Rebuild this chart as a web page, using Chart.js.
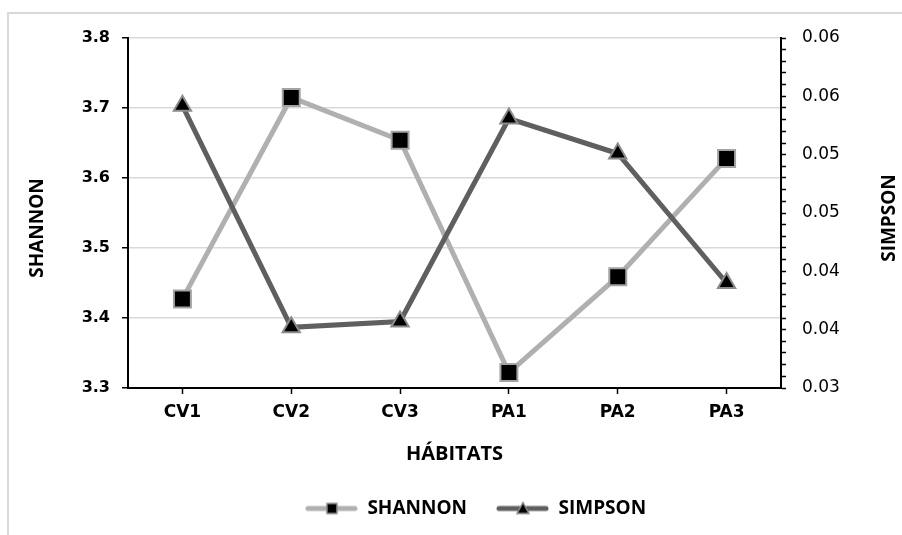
<!DOCTYPE html>
<html>
<head>
<meta charset="utf-8">
<script src="https://cdn.jsdelivr.net/npm/chart.js@4.4.0/dist/chart.umd.min.js"></script>
<style>
  html, body { margin: 0; padding: 0; background: #fff; overflow: hidden; }
  #frame { position: absolute; left: 7px; top: 12px; width: 950px; height: 600px; border: 2px solid #d9d9d9; box-sizing: border-box; }
  #wrap { position: absolute; left: 0; top: 0; width: 902px; height: 535px; }
</style>
</head>
<body>
<div id="frame"></div>
<div id="wrap"><canvas id="chart"></canvas></div>
<script>
// Data
const habitats = ['CV1', 'CV2', 'CV3', 'PA1', 'PA2', 'PA3'];
const shannon = [3.427, 3.715, 3.654, 3.322, 3.459, 3.628];
const simpson = [0.0542, 0.0352, 0.0357, 0.0531, 0.0501, 0.0390];
const simpsonTickLabels = ['0.03', '0.04', '0.04', '0.05', '0.05', '0.06', '0.06'];

// Colours
const shannonColor = '#b0b0b0';
const simpsonColor = '#5f5f5f';

// Legend icons: line with a small marker in the middle (transparent gap on the left)
function makeIcon(color, marker) {
    const c = document.createElement('canvas');
    c.width = 72;
    c.height = 16;
    const g = c.getContext('2d');
    g.strokeStyle = color;
    g.lineWidth = 5;
    g.lineCap = 'round';
    g.beginPath();
    g.moveTo(22, 8);
    g.lineTo(69, 8);
    g.stroke();
    g.fillStyle = '#000';
    g.strokeStyle = '#8c8c8c';
    g.lineWidth = 1.5;
    g.beginPath();
    if (marker === 'rect') {
        g.rect(41, 3, 10, 10);
    } else {
        g.moveTo(46, 2);
        g.lineTo(52, 13);
        g.lineTo(40, 13);
        g.closePath();
    }
    g.fill();
    g.stroke();
    return c;
}
const legendIcons = [makeIcon(shannonColor, 'rect'), makeIcon(simpsonColor, 'triangle')];

// Rotated axis titles (both read bottom to top, like the original)
const axisTitles = {
    id: 'axisTitles',
    afterDraw(chart) {
        const ctx = chart.ctx;
        const mid = (chart.chartArea.top + chart.chartArea.bottom) / 2;
        ctx.save();
        ctx.font = 'bold 19px "Open Sans"';
        ctx.fillStyle = '#000';
        ctx.textAlign = 'center';
        ctx.textBaseline = 'middle';
        [['SHANNON', 38, mid + 15], ['SIMPSON', 890, mid + 5]].forEach(([txt, x, y]) => {
            ctx.save();
            ctx.translate(x, y);
            ctx.rotate(-Math.PI / 2);
            ctx.fillText(txt, 0, 0);
            ctx.restore();
        });
        ctx.restore();
    }
};

Chart.defaults.font.family = '"DejaVu Sans"';
Chart.defaults.color = '#000';

const ctx = document.getElementById('chart').getContext('2d');
new Chart(ctx, {
    type: 'line',
    data: {
        labels: habitats,
        datasets: [
            {
                label: 'SHANNON',
                data: shannon,
                yAxisID: 'y',
                borderColor: shannonColor,
                borderWidth: 5,
                pointStyle: 'rect',
                pointRadius: 12,
                pointBackgroundColor: '#000',
                pointBorderColor: '#a3a3a3',
                pointBorderWidth: 2,
                order: 2
            },
            {
                label: 'SIMPSON',
                data: simpson,
                yAxisID: 'y1',
                borderColor: simpsonColor,
                borderWidth: 5,
                pointStyle: 'triangle',
                pointRadius: 10,
                pointBackgroundColor: '#000',
                pointBorderColor: '#8c8c8c',
                pointBorderWidth: 2,
                order: 1
            }
        ]
    },
    options: {
        responsive: true,
        maintainAspectRatio: false,
        animation: false,
        layout: { padding: { left: 30, right: 0, top: 38, bottom: 7 } },
        plugins: {
            tooltip: { enabled: false },
            legend: {
                position: 'bottom',
                labels: {
                    usePointStyle: true,
                    pointStyleWidth: 72,
                    padding: 10,
                    color: '#000',
                    font: { family: '"Open Sans"', size: 19, weight: 'bold' },
                    sort: (a, b) => a.datasetIndex - b.datasetIndex,
                    generateLabels(chart) {
                        const items = Chart.defaults.plugins.legend.labels.generateLabels(chart);
                        items.forEach(it => { it.pointStyle = legendIcons[it.datasetIndex]; });
                        return items;
                    }
                }
            }
        },
        scales: {
            x: {
                offset: true,
                grid: { offset: false, drawOnChartArea: false, tickColor: '#000', tickLength: 6, tickWidth: 1.5 },
                border: { color: '#000', width: 2 },
                ticks: { font: { size: 17, weight: 'bold' }, padding: 8 },
                title: {
                    display: true,
                    text: 'HÁBITATS',
                    font: { family: '"Open Sans"', size: 20, weight: 'bold' },
                    padding: { top: 0, bottom: 23 }
                },
                afterFit(scale) { scale.height = 101; }
            },
            y: {
                position: 'left',
                min: 3.3,
                max: 3.8,
                ticks: { stepSize: 0.1, font: { size: 16, weight: 'bold' }, padding: 12,
                    callback: v => v.toFixed(1) },
                grid: { color: '#d9d9d9', lineWidth: 1.5, tickColor: '#000', tickLength: 6, tickWidth: 1.5 },
                border: { color: '#000', width: 2 },
                afterFit(scale) { scale.width = 98; }
            },
            y1: {
                position: 'right',
                min: 0.03,
                max: 0.06,
                ticks: {
                    stepSize: 0.001,
                    autoSkip: false,
                    font: { size: 17 },
                    padding: 16,
                    callback: (v) => {
                        const k = Math.round((v - 0.03) / 0.001);
                        return k % 5 === 0 ? simpsonTickLabels[k / 5] : '';
                    }
                },
                grid: { drawOnChartArea: false, tickColor: '#000', tickLength: 5, tickWidth: 1.5 },
                border: { color: '#000', width: 2 },
                afterFit(scale) { scale.width = 121; }
            }
        }
    },
    plugins: [axisTitles]
});
</script>
</body>
</html>
